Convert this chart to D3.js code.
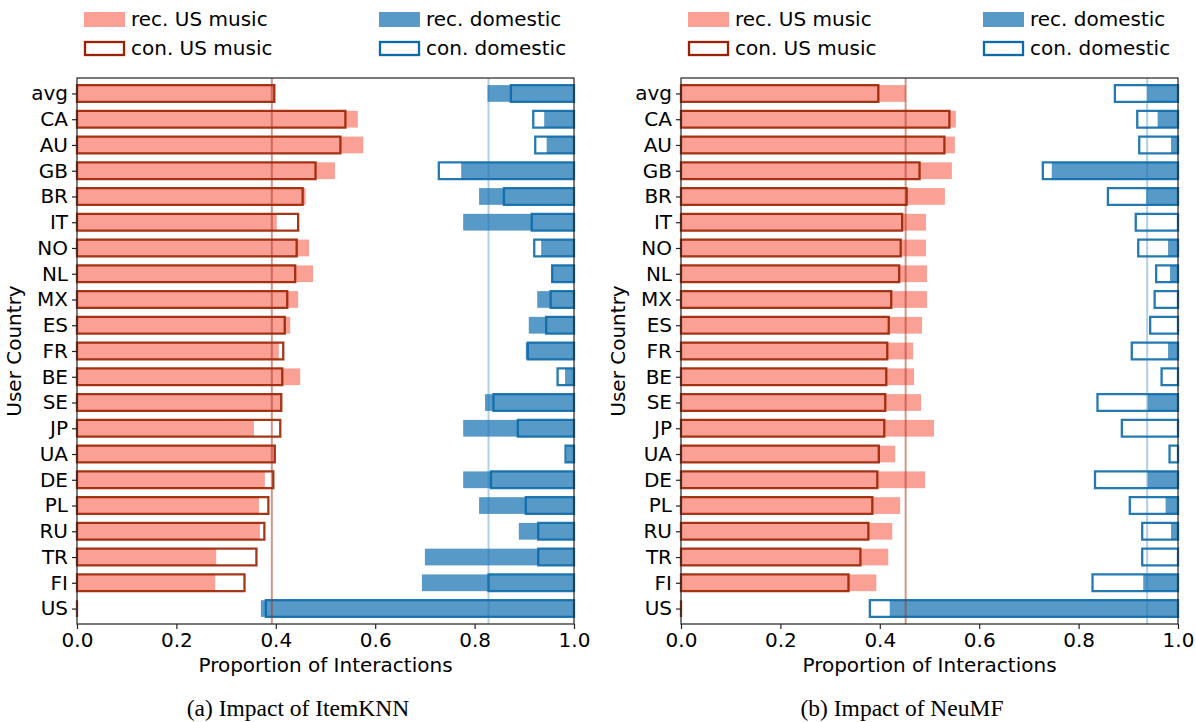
<!DOCTYPE html>
<html>
<head>
<meta charset="utf-8">
<script src="https://cdn.jsdelivr.net/npm/d3@7"></script>
<style>
  body { margin: 0; background: #fff; }
  svg { display: block; font-family: "DejaVu Sans", sans-serif; }
</style>
</head>
<body>
<svg id="chart" width="1196" height="722"></svg>
<script>
// countries, top to bottom
const countries = ["avg", "CA", "AU", "GB", "BR", "IT", "NO", "NL", "MX", "ES", "FR",
    "BE", "SE", "JP", "UA", "DE", "PL", "RU", "TR", "FI", "US"];

// consumption (same in both panels)
const conUS = [0.397, 0.540, 0.530, 0.480, 0.454, 0.445, 0.442, 0.439, 0.423, 0.418, 0.415,
    0.413, 0.411, 0.409, 0.398, 0.395, 0.385, 0.377, 0.361, 0.337, 0.0];
const conDom = [0.127, 0.082, 0.078, 0.272, 0.141, 0.085, 0.080, 0.044, 0.047, 0.056, 0.093,
    0.033, 0.162, 0.113, 0.017, 0.167, 0.097, 0.072, 0.072, 0.172, 0.620];

// recommendations, ItemKNN
const recUSKnn = [0.398, 0.565, 0.576, 0.519, 0.460, 0.402, 0.467, 0.475, 0.445, 0.429, 0.406,
    0.449, 0.410, 0.356, 0.397, 0.378, 0.366, 0.368, 0.280, 0.278, 0.0];
const recDomKnn = [0.174, 0.060, 0.055, 0.227, 0.191, 0.223, 0.066, 0.044, 0.074, 0.091, 0.097,
    0.018, 0.179, 0.223, 0.015, 0.223, 0.191, 0.111, 0.300, 0.306, 0.630];

// recommendations, NeuMF
const recUSNeu = [0.452, 0.553, 0.551, 0.545, 0.531, 0.493, 0.493, 0.495, 0.495, 0.485, 0.467,
    0.469, 0.483, 0.509, 0.431, 0.491, 0.441, 0.425, 0.417, 0.393, 0.0];
const recDomNeu = [0.062, 0.041, 0.014, 0.254, 0.064, 0.0, 0.020, 0.016, 0.0, 0.0, 0.020,
    0.0, 0.061, 0.0, 0.0, 0.061, 0.025, 0.014, 0.0, 0.070, 0.580];

// reference lines (x positions)
const refLinesKnn = [0.392, 0.828];
const refLinesNeu = [0.452, 0.938];

const xTicks = [0, 0.2, 0.4, 0.6, 0.8, 1.0];

const colUSFill = "#fa8072", colUSEdge = "#992200";
const colDomFill = "#1f77b4", colDomEdge = "#0c6aa8";

const svg = d3.select("#chart");
const plotTop = 78, plotBottom = 624, plotW = 497, barH = 0.65;
const fs = 20;

function outlinePath(x0, x1, yc, h) {
    return `M${x0},${yc - h / 2}H${x1}V${yc + h / 2}H${x0}Z`;
}

function drawPanel(left, recUS, recDom, lines, caption) {
    const x = d3.scaleLinear().domain([0, 1]).range([left, left + plotW]);
    const y = d3.scaleLinear().domain([-0.6, countries.length - 0.4]).range([plotTop, plotBottom]);
    const hPx = y(barH) - y(0);
    const g = svg.append("g");

    const idx = d3.range(countries.length);

    // rec. US music (filled)
    g.append("g").selectAll("rect").data(idx).join("rect")
        .attr("x", x(0))
        .attr("y", i => y(i) - hPx / 2)
        .attr("width", i => x(recUS[i]) - x(0))
        .attr("height", hPx)
        .attr("fill", colUSFill).attr("fill-opacity", 0.75);

    // rec. domestic (filled, right aligned)
    g.append("g").selectAll("rect").data(idx).join("rect")
        .attr("x", i => x(1 - recDom[i]))
        .attr("y", i => y(i) - hPx / 2)
        .attr("width", i => x(1) - x(1 - recDom[i]))
        .attr("height", hPx)
        .attr("fill", colDomFill).attr("fill-opacity", 0.75);

    // con. US music (outline)
    g.append("g").selectAll("path").data(idx).join("path")
        .attr("d", i => outlinePath(x(0), x(conUS[i]), y(i), hPx))
        .attr("fill", "none").attr("stroke", colUSEdge).attr("stroke-width", 2.3)
        .attr("stroke-opacity", 0.9);

    // con. domestic (outline, right aligned)
    g.append("g").selectAll("path").data(idx).join("path")
        .attr("d", i => outlinePath(x(1 - conDom[i]), x(1), y(i), hPx))
        .attr("fill", "none").attr("stroke", colDomEdge).attr("stroke-width", 2.3)
        .attr("stroke-opacity", 0.9);

    // reference lines
    g.append("line").attr("x1", x(lines[0])).attr("x2", x(lines[0]))
        .attr("y1", plotTop).attr("y2", plotBottom)
        .attr("stroke", "#a3301a").attr("stroke-opacity", 0.5).attr("stroke-width", 2);
    g.append("line").attr("x1", x(lines[1])).attr("x2", x(lines[1]))
        .attr("y1", plotTop).attr("y2", plotBottom)
        .attr("stroke", colDomFill).attr("stroke-opacity", 0.35).attr("stroke-width", 2);

    // frame
    g.append("rect").attr("x", x(0)).attr("y", plotTop)
        .attr("width", plotW).attr("height", plotBottom - plotTop)
        .attr("fill", "none").attr("stroke", "#222").attr("stroke-width", 1.2);

    // x axis
    const xAxis = g.append("g").attr("transform", `translate(0,${plotBottom})`)
        .call(d3.axisBottom(x).tickValues(xTicks).tickFormat(d3.format(".1f"))
            .tickSize(5).tickPadding(4));
    xAxis.select(".domain").remove();
    xAxis.selectAll("line").attr("stroke", "#222").attr("stroke-width", 1.2);
    xAxis.selectAll("text").attr("font-size", fs).attr("fill", "#000")
        .attr("font-family", "DejaVu Sans");

    // y axis
    const yAxis = g.append("g").attr("transform", `translate(${x(0)},0)`)
        .call(d3.axisLeft(y).tickValues(idx).tickFormat(i => countries[i])
            .tickSize(5).tickPadding(4));
    yAxis.select(".domain").remove();
    yAxis.selectAll("line").attr("stroke", "#222").attr("stroke-width", 1.2);
    yAxis.selectAll("text").attr("font-size", fs).attr("fill", "#000")
        .attr("font-family", "DejaVu Sans");

    // axis titles
    g.append("text").attr("x", x(0.5)).attr("y", 672)
        .attr("text-anchor", "middle").attr("font-size", fs)
        .text("Proportion of Interactions");
    g.append("text")
        .attr("transform", `translate(${left - 56},${(plotTop + plotBottom) / 2}) rotate(-90)`)
        .attr("text-anchor", "middle").attr("font-size", fs)
        .text("User Country");

    // caption
    g.append("text").attr("x", left - 77 + 298).attr("y", 716)
        .attr("text-anchor", "middle").attr("font-size", 23.5)
        .attr("font-family", "Liberation Serif, serif")
        .text(caption);

    // legend
    const lg = g.append("g");
    const items = [
        { label: "rec. US music", dx: 7, dy: 12, fill: colUSFill, edge: null },
        { label: "con. US music", dx: 7, dy: 41, fill: null, edge: colUSEdge },
        { label: "rec. domestic", dx: 302, dy: 12, fill: colDomFill, edge: null },
        { label: "con. domestic", dx: 302, dy: 41, fill: null, edge: colDomEdge }
    ];
    items.forEach(it => {
        const sx = left + it.dx;
        if (it.fill) {
            lg.append("rect").attr("x", sx).attr("y", it.dy).attr("width", 41).attr("height", 15)
                .attr("fill", it.fill).attr("fill-opacity", 0.75);
        } else {
            lg.append("rect").attr("x", sx + 1).attr("y", it.dy + 1).attr("width", 39).attr("height", 13)
                .attr("fill", "none").attr("stroke", it.edge).attr("stroke-width", 2.3);
        }
        lg.append("text").attr("x", sx + 47).attr("y", it.dy + 14)
            .attr("font-size", fs).text(it.label);
    });
}

drawPanel(77, recUSKnn, recDomKnn, refLinesKnn, "(a) Impact of ItemKNN");
drawPanel(681, recUSNeu, recDomNeu, refLinesNeu, "(b) Impact of NeuMF");
</script>
</body>
</html>
